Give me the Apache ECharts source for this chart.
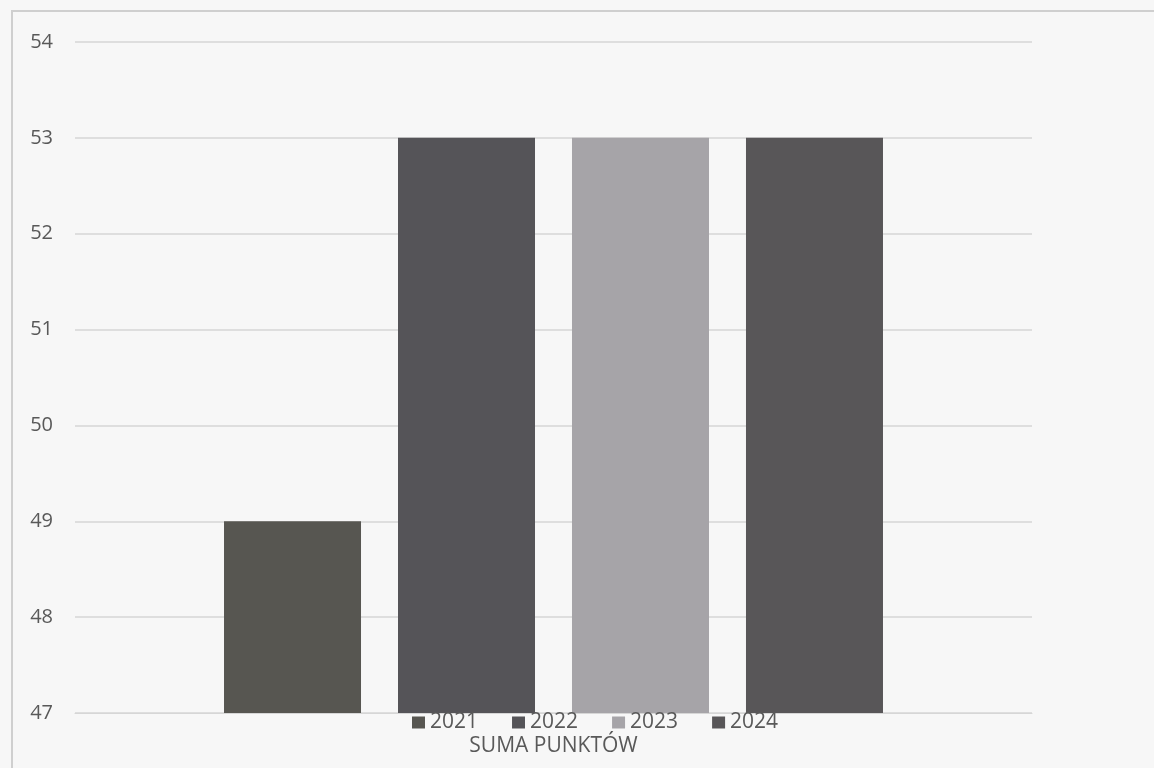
<!DOCTYPE html>
<html>
<head>
<meta charset="utf-8">
<script src="https://cdn.jsdelivr.net/npm/echarts@6/dist/echarts.min.js"></script>
<style>
html,body{margin:0;padding:0;background:#f7f7f7;}
#c{width:1154px;height:768px;}
</style>
</head>
<body>
<div id="c"></div>
<script>
const categories = ['SUMA PUNKTÓW'];
const seriesNames = ['2021', '2022', '2023', '2024'];
const values2021 = [49];
const values2022 = [53];
const values2023 = [53];
const values2024 = [53];
const yTicks = [47, 48, 49, 50, 51, 52, 53, 54];

const seriesValues = [values2021, values2022, values2023, values2024];
const colors = ['#575651', '#555458', '#a6a4a8', '#585658'];
const font = '"Open Sans", "Liberation Sans", sans-serif';

const chart = echarts.init(document.getElementById('c'));
chart.setOption({
  backgroundColor: '#f7f7f7',
  animation: false,
  color: colors,
  graphic: [{
    type: 'rect',
    shape: { x: 12, y: 11, width: 1200, height: 800 },
    style: { fill: 'none', stroke: '#cfcfcf', lineWidth: 2 },
    silent: true
  }],
  grid: { left: 75, right: 122, top: 42, bottom: 55, containLabel: false },
  legend: {
    data: seriesNames,
    top: 707,
    left: 407,
    itemWidth: 13,
    itemHeight: 12,
    itemGap: 34,
    icon: 'rect',
    textStyle: { fontFamily: font, fontSize: 21, color: '#595959' }
  },
  xAxis: {
    type: 'category',
    data: categories,
    axisLine: { show: true, lineStyle: { color: '#d6d6d6', width: 1 } },
    axisTick: { show: false },
    axisLabel: { margin: 23, fontFamily: font, fontSize: 21, color: '#595959' }
  },
  yAxis: {
    type: 'value',
    min: yTicks[0],
    max: yTicks[yTicks.length - 1],
    interval: 1,
    axisLine: { show: false },
    axisTick: { show: false },
    splitLine: { lineStyle: { color: '#d6d6d6', width: 1.5 } },
    axisLabel: { margin: 22, fontFamily: font, fontSize: 20, color: '#595959' }
  },
  series: seriesNames.map((name, i) => ({
    name: name,
    type: 'bar',
    data: seriesValues[i],
    barWidth: 137,
    barGap: '27%'
  }))
});
</script>
</body>
</html>
